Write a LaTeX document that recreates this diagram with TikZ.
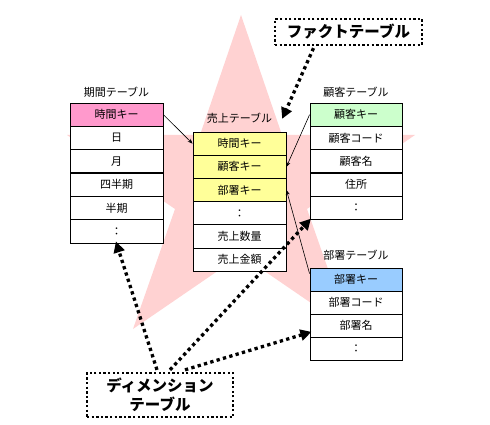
\documentclass[tikz,border=0pt]{standalone}
\usepackage{fontspec}
\setmainfont{Noto Sans CJK JP}
\usetikzlibrary{arrows.meta,calc}
\definecolor{starpink}{RGB}{255,210,210}
\definecolor{kpink}{RGB}{255,153,204}
\definecolor{kyellow}{RGB}{255,255,153}
\definecolor{kgreen}{RGB}{204,255,204}
\definecolor{kblue}{RGB}{153,204,255}
\tikzset{
  row/.style={draw=black, line width=0.9pt, minimum width=93pt, minimum height=23.3pt, inner sep=0pt, font=\fontsize{11pt}{13pt}\selectfont, fill=white},
  ttl/.style={inner sep=0pt, font=\fontsize{11pt}{13pt}\selectfont},
  thin/.style={draw=black, line width=0.6pt, -{Stealth[length=5pt,width=4pt]}},
  bigdot/.style={draw=black, line width=3.3pt, dash pattern=on 3.3pt off 3.3pt, -{Triangle[length=11pt,width=11pt]}, shorten >=-2pt},
  lbl/.style={draw=black, line width=2.3pt, dash pattern=on 2.3pt off 2.3pt, inner sep=0pt, align=center, font=\bfseries\fontsize{15.5pt}{19pt}\selectfont, fill=white}
}
\begin{document}
\begin{tikzpicture}[x=1pt,y=-1pt]
\useasboundingbox (0,0) rectangle (490,425);
% star
\fill[starpink] (241,15) -- (282,135) -- (415,135) -- (307,209) -- (349,329) -- (241,255) -- (133,329) -- (175,209) -- (67,135) -- (200,135) -- cycle;

% 期間テーブル
\node[ttl] (kt) at (116.5,92) {期間テーブル};
\node[row, fill=kpink] (k1) at (116.5,114.7) {時間キー};
\node[row] (k2) at (116.5,138) {日};
\node[row] (k3) at (116.5,161.3) {月};
\node[row] (k4) at (116.5,184.7) {四半期};
\node[row] (k5) at (116.5,208) {半期};
\node[row] (k6) at (116.5,231.3) {：};

% 売上テーブル
\node[ttl] (ut) at (239.5,118) {売上テーブル};
\node[row, fill=kyellow, minimum height=23.2pt] (u1) at (239.5,143.6) {時間キー};
\node[row, fill=kyellow, minimum height=23.2pt] (u2) at (239.5,166.8) {顧客キー};
\node[row, fill=kyellow, minimum height=23.2pt] (u3) at (239.5,190) {部署キー};
\node[row, minimum height=23.2pt] (u4) at (239.5,213.2) {：};
\node[row, minimum height=23.2pt] (u5) at (239.5,236.4) {売上数量};
\node[row, minimum height=23.2pt] (u6) at (239.5,259.6) {売上金額};

% 顧客テーブル
\node[ttl] (ct) at (356,92) {顧客テーブル};
\node[row, fill=kgreen, minimum width=92pt] (c1) at (356,114.7) {顧客キー};
\node[row, minimum width=92pt] (c2) at (356,138) {顧客コード};
\node[row, minimum width=92pt] (c3) at (356,161.3) {顧客名};
\node[row, minimum width=92pt] (c4) at (356,184.7) {住所};
\node[row, minimum width=92pt] (c5) at (356,208) {：};

% 部署テーブル
\node[ttl] (bt) at (356,255) {部署テーブル};
\node[row, fill=kblue, minimum width=92pt, minimum height=23pt] (b1) at (356,279.5) {部署キー};
\node[row, minimum width=92pt, minimum height=23pt] (b2) at (356,302.5) {部署コード};
\node[row, minimum width=92pt, minimum height=23pt] (b3) at (356,325.5) {部署名};
\node[row, minimum width=92pt, minimum height=23pt] (b4) at (356,348.5) {：};

% key connectors
\draw[thin] (k1.east) -- (u1.west);
\draw[thin] (c1.west) -- (u2.east);
\draw[thin] ($(b1.north west)+(0,6)$) -- (u3.east);

% label boxes
\node[lbl, minimum width=147pt, minimum height=26pt] (fact) at (348.5,32) {ファクトテーブル};
\node[lbl, minimum width=146pt, minimum height=44pt] (dim) at (160,395) {ディメンション\\テーブル};

\coordinate (facttip) at (283,117);
\draw[bigdot] ($(fact.south)+(-35,2)$) -- (facttip);
\draw[bigdot] ($(dim.north)+(-3,-2)$) -- (k6.south);
\draw[bigdot] ($(dim.north)+(10,-2)$) -- (c5.south west);
\draw[bigdot] ($(dim.north)+(25,-2)$) -- ($(b3.south west)+(0,-5)$);
\end{tikzpicture}
\end{document}
